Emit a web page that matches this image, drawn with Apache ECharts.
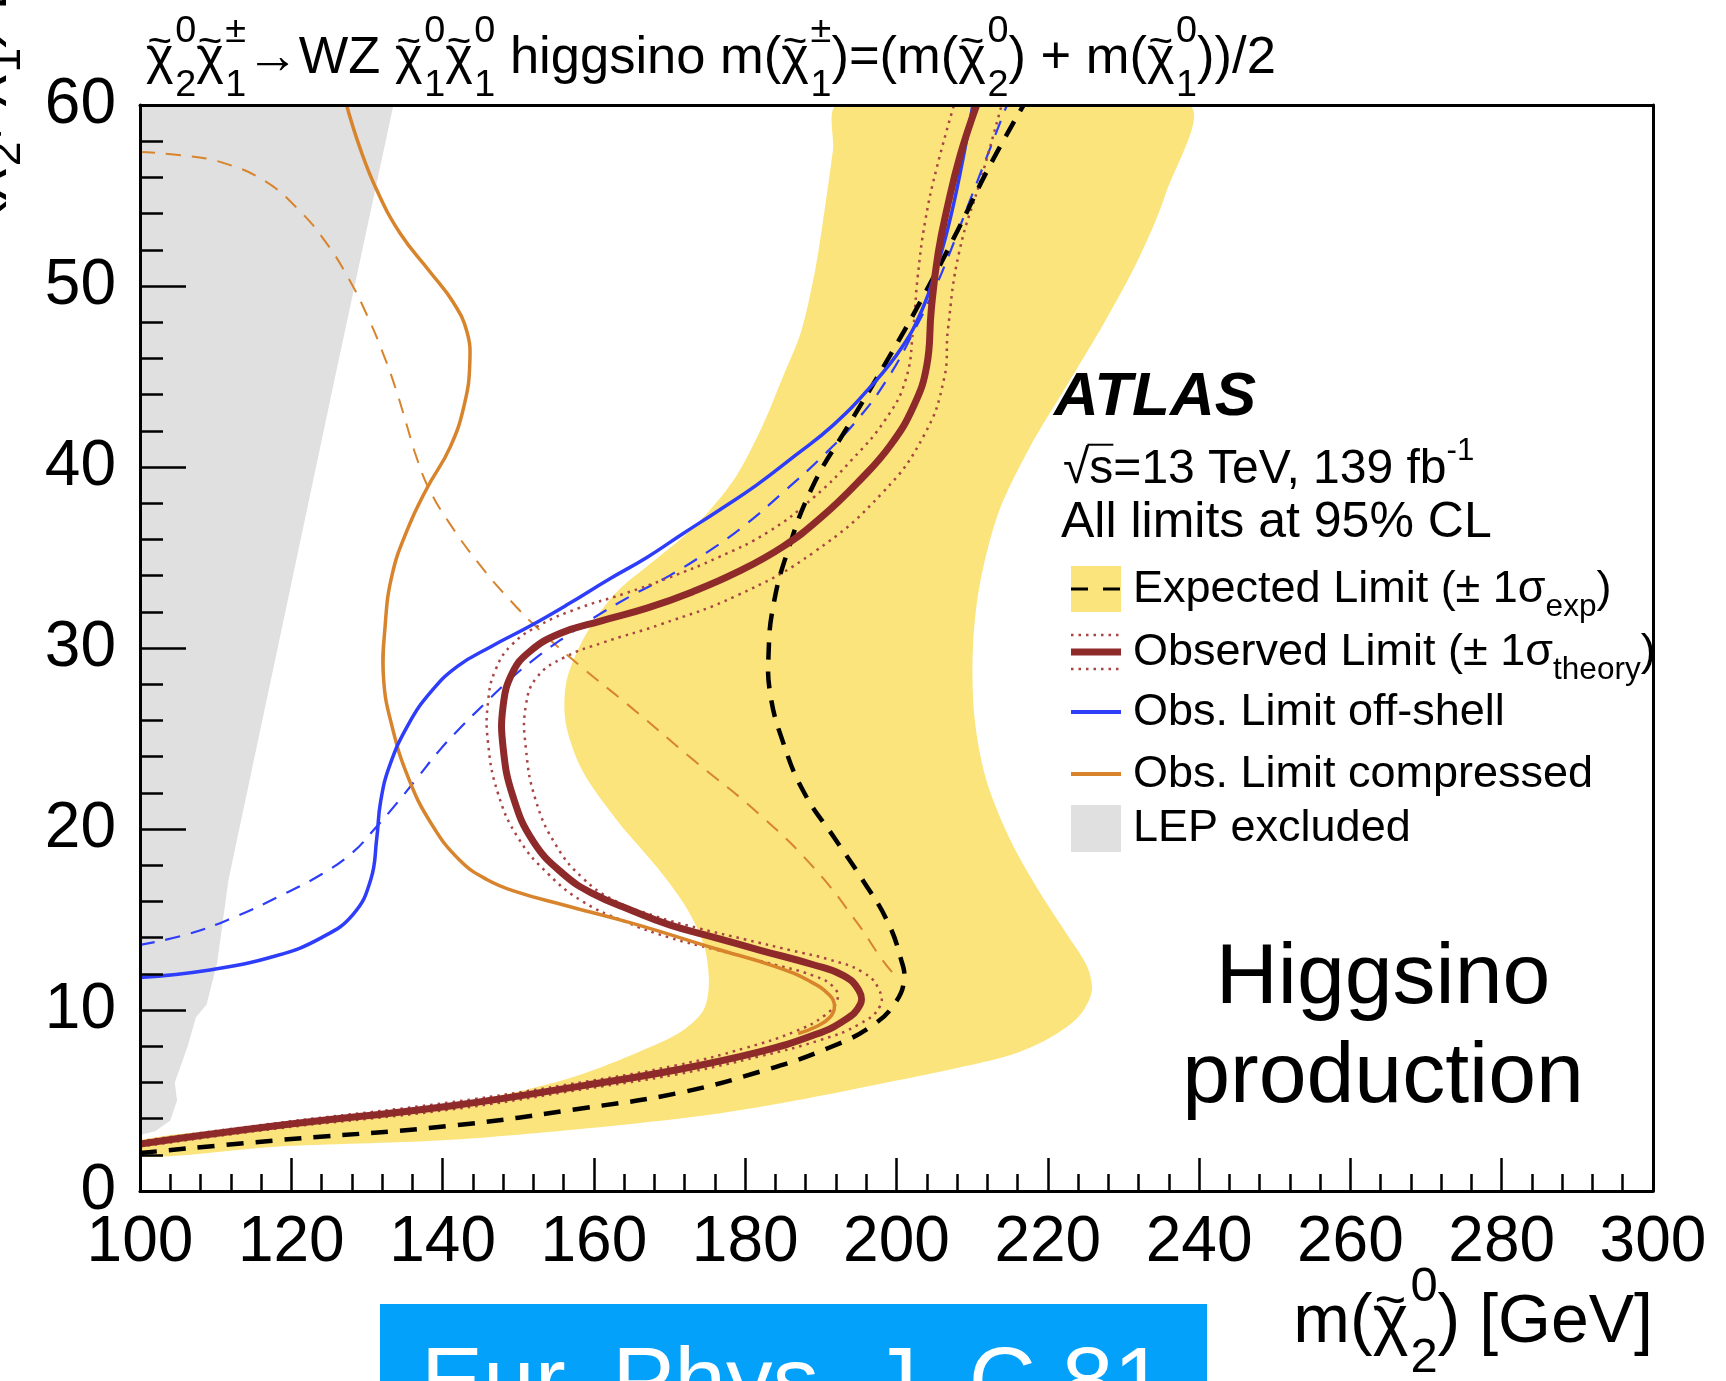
<!DOCTYPE html>
<html>
<head>
<meta charset="utf-8">
<title>Higgsino WZ limits</title>
<script src="https://cdn.jsdelivr.net/npm/echarts@6/dist/echarts.min.js"></script>
<style>
html, body { margin: 0; padding: 0; background: #fff; }
#chart { width: 1726px; height: 1381px; }
</style>
</head>
<body>
<div id="chart"></div>
<script>
// axes
const xTicks = [100, 120, 140, 160, 180, 200, 220, 240, 260, 280, 300];
const yTicks = [0, 10, 20, 30, 40, 50, 60];

// expected limit +-1 sigma band (closed outline, [m(chi2), dm])
const expBand = [
  [192.3, 60], [191.6, 57.5], [190.6, 54.5], [189.3, 51], [187.4, 47.5], [185, 45],
  [182.2, 42.2], [178.5, 39.3], [173.5, 36.8], [168.5, 35.0], [163.5, 33.3], [160.5, 31.8],
  [158.0, 30.0], [156.3, 28.0], [156.3, 25.8],
  [158.5, 23.2], [163.2, 20.4], [168.5, 17.8], [172.3, 15.6], [174.6, 13.5], [175.2, 11.5],
  [174.5, 10.0], [171.5, 8.8], [166.0, 7.7], [158.0, 6.4], [150, 5.5], [141, 4.8],
  [130, 4.1], [118, 3.6], [100, 2.8],
  [100, 1.9], [118, 2.45], [140, 2.8], [160, 3.5], [175, 4.2], [188, 5.1], [200, 6.1],
  [208, 6.8], [215, 7.5], [220, 8.4], [224, 9.6], [225.8, 11.0], [225.2, 12.4], [222.5, 14.2],
  [218.5, 16.8], [214.8, 19.6], [211.8, 22.8], [210.3, 26.2], [210.1, 30.0], [211.0, 33.5],
  [213.5, 37.5], [217.5, 41.0], [222.5, 44.5], [227.5, 48.0], [232.0, 51.5], [235.5, 55.0],
  [238.5, 60]
];

// LEP excluded region
const lepExcl = [
  [100, 60], [133.5, 60], [125.8, 45], [118.1, 29.8], [111.7, 17.2], [110.2, 12.6],
  [108.8, 10.3], [107.4, 9.6], [106.3, 8.0], [104.6, 6.0], [104.9, 5.0], [104.0, 3.9],
  [102.0, 3.3], [100, 3.1]
];

// expected limit (black dashed)
const expLimit = [
  [100, 2.1], [118, 2.8], [141, 3.6], [159, 4.6], [171, 5.4], [182, 6.6], [191, 7.9],
  [197, 9.2], [200, 10.5], [201, 11.7], [200.6, 12.8], [198.8, 14.9], [195.5, 17.2],
  [191.8, 19.5], [187.8, 22.0], [185.0, 24.8], [183.3, 27.5], [183.1, 29.8], [183.7, 32.3],
  [185.5, 35.2], [189.0, 39.0], [193.5, 42.2], [198.5, 45.7], [203.5, 49.4], [208.0, 53.0],
  [212.4, 56.7], [216.8, 60]
];

// observed limit
const obsLimit = [
  [100, 2.6], [118, 3.6], [141, 4.7], [159, 5.85], [171, 6.7], [182, 7.7], [189, 8.6],
  [193, 9.4], [195.2, 10.3], [195, 11.1], [193, 11.9], [189, 12.5], [182, 13.3], [176, 14.0],
  [170, 14.7], [165, 15.5], [160, 16.4], [156, 17.5], [152, 19.3], [149.3, 21.8], [148, 24.5],
  [148, 26.8], [149.2, 28.6], [151.5, 29.8], [155.5, 30.8], [161, 31.5], [167, 32.2],
  [173, 33.1], [179, 34.2], [185, 35.6], [190, 37.2], [195, 39.2], [199.2, 41.2],
  [202.3, 43.4], [204, 45.6], [204.6, 48.7], [205.5, 51.8], [206.8, 54.5], [208.4, 57.2],
  [210.6, 60]
];

// observed limit, -1 sigma theory
const obsTheoryDown = [
  [100, 2.75], [118, 3.75], [141, 4.9], [159, 6.05], [171, 6.95], [180, 7.9], [186.5, 8.8],
  [190.5, 9.7], [192.2, 10.6], [191.6, 11.3], [189, 11.9], [183, 12.6], [176, 13.35],
  [170, 14.0], [164, 14.9], [158.5, 16.0], [154, 17.5], [150, 19.5], [147.3, 22.0],
  [146.0, 24.8], [146.0, 27.0], [147.0, 28.8], [149.2, 30.2], [153, 31.3], [158, 32.2],
  [164, 33.0], [170, 33.9], [176.4, 35.0], [183, 36.4], [189, 38.3], [194.1, 40.4],
  [198.5, 42.6], [201.2, 44.8], [202.2, 47.6], [202.8, 50.5], [203.8, 53.6], [205.3, 56.5],
  [207.6, 60]
];

// observed limit, +1 sigma theory
const obsTheoryUp = [
  [100, 2.45], [118, 3.45], [141, 4.5], [159, 5.65], [171, 6.45], [182, 7.45], [190, 8.35],
  [195, 9.2], [197.8, 10.2], [197.6, 11.2], [195.5, 12.1], [191, 12.8], [186, 13.3],
  [180, 13.9], [174, 14.5], [168, 15.2], [162.5, 16.1], [158.5, 17.3], [155, 19.1],
  [152.3, 21.6], [151, 24.5], [151, 26.8], [152.5, 28.4], [156.2, 29.5], [161.2, 30.3],
  [168.8, 31.3], [178.9, 32.9], [189.1, 35.3], [198.2, 38.6], [203.7, 41.8], [206.3, 44.9],
  [206.8, 47.6], [208.3, 51.9], [211.3, 56.1], [213.9, 60]
];

// off-shell analysis: observed (solid) and expected (dashed)
const offShellObs = [
  [100, 11.8], [109, 12.2], [118, 13.0], [124, 14.0], [128.2, 15.3], [130.5, 17.2],
  [131.3, 19.5], [131.8, 21.5], [133, 23.5], [135.5, 25.8], [138.5, 27.6], [142, 29.0],
  [146.5, 30.1], [151.5, 31.2], [156.5, 32.4], [162, 33.8], [167, 35.0], [171.7, 36.3],
  [176.5, 37.6], [181.5, 39.0], [186.5, 40.6], [191.6, 42.3], [196.5, 44.4], [200.7, 46.6],
  [203.5, 48.8], [205.3, 51], [206.8, 53.2], [208.3, 56], [210.1, 60]
];
const offShellExp = [
  [100, 13.6], [106.4, 14.2], [112.3, 15.1], [118.5, 16.3], [124, 17.5], [128.1, 18.7],
  [131, 20.0], [133.9, 21.4], [136.8, 22.9], [139.7, 24.4], [142.6, 25.7], [145.5, 26.9],
  [149, 28.3], [152.8, 29.6], [156.5, 30.7], [160.1, 31.7], [165, 32.9], [170, 34.0],
  [175, 35.3], [180, 36.8], [185, 38.6], [190, 40.5], [195, 42.7], [199, 45.0],
  [202.3, 47.5], [205, 49.8], [207.2, 52], [209.5, 54.5], [212, 57.2], [214.6, 60]
];

// compressed analysis: observed (solid) and expected (dashed)
const compObs = [
  [127.3, 60], [129.1, 57.6], [131.3, 55.3], [134.4, 52.9], [138.3, 50.8], [141.4, 49.1],
  [143.2, 47.5], [143.6, 45.8], [142.9, 43.5], [141.0, 41.1], [137.9, 38.8], [135.3, 36.5],
  [133.3, 34.0], [132.4, 31.2], [132.2, 28.3], [133.3, 25.7], [135.5, 22.8], [138.5, 20.3],
  [142.2, 18.3], [145.9, 17.2], [150, 16.5], [156, 15.8], [165, 14.8], [176, 13.4],
  [184, 12.4], [188.5, 11.6], [191.2, 10.8], [191.8, 10.2], [191.2, 9.6], [189.5, 9.1],
  [187, 8.7]
];
const compExp = [
  [100, 57.4], [106, 57.2], [111, 56.8], [116.5, 55.8], [121, 54.2], [124.6, 52.4],
  [127.6, 50.4], [130.0, 48.4], [132.2, 46.2], [133.9, 44.2], [135.2, 42.4], [136.5, 40.6],
  [138.2, 38.8], [140.9, 36.9], [144.9, 34.6], [148.8, 32.7], [152.8, 31.0], [158.5, 28.9],
  [164.4, 26.9], [173.2, 23.8], [181.9, 20.8], [189.2, 17.8], [195, 14.7], [197.9, 12.9],
  [199.6, 12.0]
];

const FONT = '"Liberation Sans", Arial, Helvetica, sans-serif';
const YELLOW = '#fbe47c';
const GREY = '#e0e0e0';
const RED = '#8e2a2a';
const RED_DOT = '#a84444';
const BLUE = '#2d3dfa';
const ORANGE = '#d8842c';

// text measuring, used to place sub/superscripts
const mctx = document.createElement('canvas').getContext('2d');
function measure(s, size, weight, style) {
  mctx.font = (style || 'normal') + ' ' + (weight || 'normal') + ' ' + size + 'px ' + FONT;
  return mctx.measureText(s).width;
}

// text element with its baseline at (x, base)
function label(s, x, base, size, o) {
  o = o || {};
  return {
    type: 'text', x: x, y: base - 0.3465 * size, silent: true,
    style: {
      text: s, fill: o.color || '#000', fontSize: size, fontFamily: FONT,
      fontWeight: o.weight || 'normal', fontStyle: o.style || 'normal',
      textAlign: o.align || 'left', align: o.align || 'left',
      textVerticalAlign: 'middle', verticalAlign: 'middle'
    }
  };
}

// lays out ROOT-like text: strings, {chi, sub, sup}
function mathText(parts, size, o) {
  const els = [];
  const ss = size * o.scale;
  let cx = 0;
  parts.forEach(function (p) {
    if (typeof p === 'string') {
      els.push(label(p, cx, 0, size));
      cx += measure(p, size);
      return;
    }
    if (p.chi) {
      const w = measure('χ', size);
      els.push(label('χ', cx, 0, size));
      els.push(label('~', cx + w / 2, -0.37 * size, size * 0.8, { align: 'center' }));
      cx += w + size * 0.03;
    }
    let w2 = 0;
    if (p.sub) {
      els.push(label(p.sub, cx, o.subDown * size, ss));
      w2 = Math.max(w2, measure(p.sub, ss));
    }
    if (p.sup) {
      els.push(label(p.sup, cx, -o.supUp * size, ss));
      w2 = Math.max(w2, measure(p.sup, ss));
    }
    cx += w2;
  });
  return { els: els, width: cx };
}

const mathStyle = { scale: 0.72, subDown: 0.42, supUp: 0.62 };

const titleParts = [
  { chi: true, sub: '2', sup: '0' }, { chi: true, sub: '1', sup: '±' }, '→WZ ',
  { chi: true, sub: '1', sup: '0' }, { chi: true, sub: '1', sup: '0' },
  ' higgsino m(', { chi: true, sub: '1', sup: '±' }, ')=(m(', { chi: true, sub: '2', sup: '0' },
  ') + m(', { chi: true, sub: '1', sup: '0' }, '))/2'
];
const title = mathText(titleParts, 52.5, mathStyle);

const xName = mathText(['m(', { chi: true, sub: '2', sup: '0' }, ') [GeV]'], 68, mathStyle);

const yNameHead = mathText(['Δm(', { chi: true, sub: '2', sup: '0' }, ', ', { chi: true, sub: '1', sup: '0' }, ') '], 62, mathStyle);
const yName = mathText(['Δm(', { chi: true, sub: '2', sup: '0' }, ', ', { chi: true, sub: '1', sup: '0' }, ') [GeV]'], 62, mathStyle);

// legend
const legStyle = { scale: 0.7, subDown: 0.3, supUp: 0.5 };
const legendRows = [
  ['Expected Limit (± 1σ', { sub: 'exp' }, ')'],
  ['Observed Limit (± 1σ', { sub: 'theory' }, ')'],
  ['Obs. Limit off-shell'],
  ['Obs. Limit compressed'],
  ['LEP excluded']
];
const legendY = [589, 652, 712, 774, 828];
const symX1 = 1071, symX2 = 1121, legTextX = 1133, legSize = 45;

const graphics = [];
graphics.push({ type: 'group', x: 146, y: 77, children: title.els });
graphics.push({ type: 'group', x: 1653 - xName.width, y: 1347, children: xName.els });
graphics.push({ type: 'group', x: -3, y: yNameHead.width + 10, rotation: Math.PI / 2, children: yName.els });

graphics.push(label('ATLAS', 1054, 419, 62, { weight: 'bold', style: 'italic' }));
const sqrtSize = 48;
const sqrtLine = mathText(['√s=13 TeV, 139 fb', { sup: '-1' }], sqrtSize, { scale: 0.65, subDown: 0.3, supUp: 0.5 });
graphics.push({ type: 'group', x: 1063, y: 486, children: sqrtLine.els });
const wRad = measure('√', sqrtSize), wS = measure('s', sqrtSize);
graphics.push({
  type: 'line', shape: { x1: 1063 + wRad - 2, y1: 486 - 0.86 * sqrtSize, x2: 1063 + wRad + wS, y2: 486 - 0.86 * sqrtSize },
  style: { stroke: '#000', lineWidth: 2 }
});
graphics.push(label('All limits at 95% CL', 1061, 541, 50));

legendRows.forEach(function (row, i) {
  const t = mathText(row, legSize, legStyle);
  graphics.push({ type: 'group', x: legTextX, y: legendY[i] + 0.358 * legSize, children: t.els });
});
const hl = function (y, color, w, dash) {
  return { type: 'line', shape: { x1: symX1, y1: y, x2: symX2, y2: y }, style: { stroke: color, lineWidth: w, lineDash: dash || null } };
};
graphics.push({ type: 'rect', shape: { x: symX1, y: legendY[0] - 23, width: symX2 - symX1, height: 46 }, style: { fill: YELLOW } });
graphics.push(hl(legendY[0], '#000', 3, [17, 15]));
graphics.push(hl(legendY[1] - 17, RED_DOT, 2.5, [2.5, 5]));
graphics.push(hl(legendY[1], RED, 7));
graphics.push(hl(legendY[1] + 17, RED_DOT, 2.5, [2.5, 5]));
graphics.push(hl(legendY[2], BLUE, 4));
graphics.push(hl(legendY[3], ORANGE, 4));
graphics.push({ type: 'rect', shape: { x: symX1, y: legendY[4] - 23, width: symX2 - symX1, height: 47 }, style: { fill: GREY } });

graphics.push(label('Higgsino', 1383, 1009, 86, { align: 'center' }));
graphics.push(label('production', 1383, 1108, 86, { align: 'center' }));

graphics.push({ type: 'rect', shape: { x: 380, y: 1304, width: 827, height: 90 }, style: { fill: '#03a1fa' } });
graphics.push(label('Eur. Phys. J. C 81', 421, 1419, 93, { color: '#fff' }));

// contour lines: drawn once per series, points mapped through the axes
function curve(data, color, width, dash, z) {
  return {
    type: 'custom', data: data, z: z, silent: true, animation: false, clip: true,
    encode: { x: 0, y: 1 },
    renderItem: function (params, api) {
      if (params.dataIndex !== 0) return null;
      return {
        type: 'polyline',
        shape: { points: data.map(function (p) { return api.coord(p); }), smooth: 0.45 },
        style: { stroke: color, lineWidth: width, lineDash: dash || null, fill: 'none', lineCap: 'butt', lineJoin: 'round' }
      };
    }
  };
}

function area(points, color, smooth, z) {
  return {
    type: 'custom', data: points, z: z, silent: true, animation: false, clip: true,
    encode: { x: 0, y: 1 },
    renderItem: function (params, api) {
      if (params.dataIndex !== 0) return null;
      return {
        type: 'polygon',
        shape: { points: points.map(function (p) { return api.coord(p); }), smooth: smooth },
        style: { fill: color }
      };
    }
  };
}

const frameAxis = {
  axisLine: { show: true, onZero: false, lineStyle: { color: '#000', width: 3 } },
  axisTick: { show: false }, axisLabel: { show: false }, splitLine: { show: false }, z: 10
};

const option = {
  backgroundColor: '#fff',
  animation: false,
  grid: { left: 140, right: 73, top: 105, bottom: 190, containLabel: false, outerBoundsMode: 'none' },
  xAxis: [{
    type: 'value', min: xTicks[0], max: xTicks[xTicks.length - 1], interval: xTicks[1] - xTicks[0],
    axisLine: { show: true, onZero: false, lineStyle: { color: '#000', width: 3 } },
    axisTick: { show: true, inside: true, length: 33, lineStyle: { color: '#000', width: 2.5 } },
    minorTick: { show: true, splitNumber: 5, length: 17, lineStyle: { color: '#000', width: 2.5 } },
    axisLabel: { color: '#000', fontSize: 64, fontFamily: FONT, margin: 20, showMinLabel: true, showMaxLabel: true },
    splitLine: { show: false }, minorSplitLine: { show: false }, z: 10
  }, Object.assign({
    type: 'value', position: 'top', min: xTicks[0], max: xTicks[xTicks.length - 1]
  }, frameAxis)],
  yAxis: [{
    type: 'value', min: yTicks[0], max: yTicks[yTicks.length - 1], interval: yTicks[1] - yTicks[0],
    axisLine: { show: true, onZero: false, lineStyle: { color: '#000', width: 3 } },
    axisTick: { show: true, inside: true, length: 46, lineStyle: { color: '#000', width: 2.5 } },
    minorTick: { show: true, splitNumber: 5, length: 23, lineStyle: { color: '#000', width: 2.5 } },
    axisLabel: { color: '#000', fontSize: 64, fontFamily: FONT, margin: 24, showMinLabel: true, showMaxLabel: true },
    splitLine: { show: false }, minorSplitLine: { show: false }, z: 10
  }, Object.assign({
    type: 'value', position: 'right', min: yTicks[0], max: yTicks[yTicks.length - 1]
  }, frameAxis)],
  graphic: graphics,
  series: [
    area(expBand, YELLOW, 0.3, 1),
    area(lepExcl, GREY, 0, 1),
    curve(compExp, ORANGE, 2, [15, 11], 3),
    curve(offShellExp, BLUE, 2.2, [15, 11], 3),
    curve(obsTheoryDown, RED_DOT, 2.5, [2.5, 5], 4),
    curve(obsTheoryUp, RED_DOT, 2.5, [2.5, 5], 4),
    curve(expLimit, '#000', 4.5, [17, 12], 4),
    curve(compObs, ORANGE, 3.5, null, 5),
    curve(offShellObs, BLUE, 3.5, null, 5),
    curve(obsLimit, RED, 7, null, 6)
  ]
};

const chart = echarts.init(document.getElementById('chart'));
chart.setOption(option);
</script>
</body>
</html>
